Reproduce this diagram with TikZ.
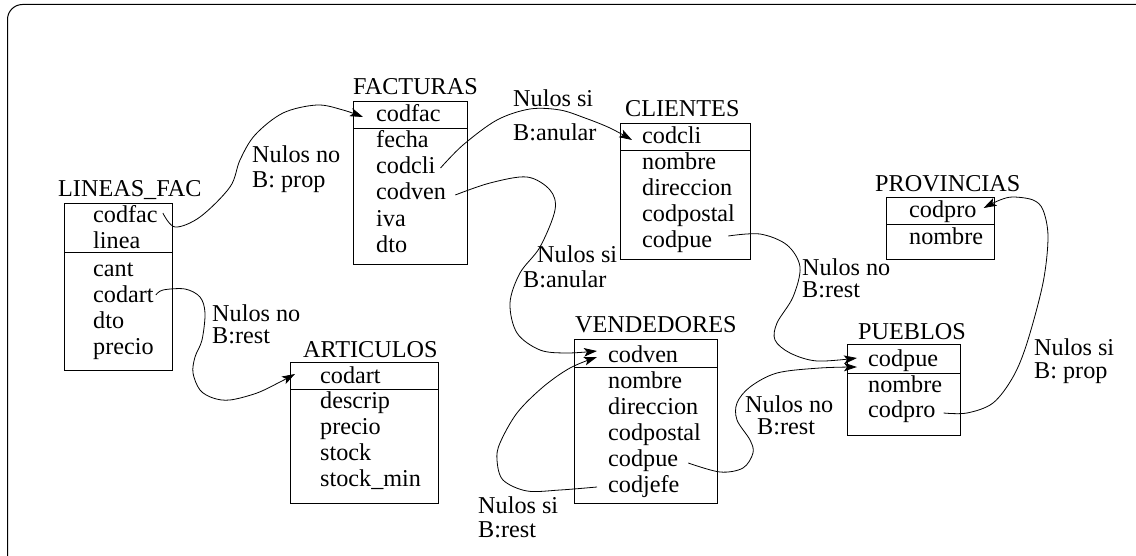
\documentclass[tikz,border=0pt]{standalone}
\usepackage{fontspec}
\setmainfont{Liberation Serif}
\usetikzlibrary{arrows.meta,calc}
\begin{document}
\begin{tikzpicture}[x=1pt,y=-1pt,
  fld/.style={anchor=base west, inner sep=0pt, text height=16pt, text depth=5pt, font=\fontsize{24.2}{26}\selectfont},
  ttl/.style={fld},
  lbl/.style={fld, text height=14pt, text depth=4pt},
  tbox/.style={draw, line width=1pt, anchor=north west, inner sep=0pt},
  conn/.style={line width=0.8pt, -{Stealth[length=13pt,width=8.5pt,inset=3pt]}},
  sm/.style={smooth, tension=0.55}]
\useasboundingbox (0,0) rectangle (1136,556);
\begin{scope}
\clip (0,0) rectangle (1136,556);
\draw[line width=1pt, rounded corners=15pt] (7.5,4.5) rectangle (1170,590);
\end{scope}

% LINEAS_FAC
\node[ttl] (lft) at (58,197) {LINEAS\_FAC};
\node[tbox, minimum width=108pt, minimum height=167pt] (lfbox) at (64,203) {};
\draw[line width=1pt] (lfbox.west |- 0,253) -- (lfbox.east |- 0,253);
\node[fld] (lf-codfac) at (93,223) {codfac};
\node[fld] (lf-linea) at (93,249) {linea};
\node[fld] (lf-cant) at (93,277) {cant};
\node[fld] (lf-codart) at (93,302) {codart};
\node[fld] (lf-dto) at (93,328) {dto};
\node[fld] (lf-precio) at (93,354) {precio};

% FACTURAS
\node[ttl] (ft) at (353,95) {FACTURAS};
\node[tbox, minimum width=114pt, minimum height=163pt] (fbox) at (353,101) {};
\draw[line width=1pt] (fbox.west |- 0,129) -- (fbox.east |- 0,129);
\node[fld] (f-codfac) at (376,122) {codfac};
\node[fld] (f-fecha) at (376,148) {fecha};
\node[fld] (f-codcli) at (376,174) {codcli};
\node[fld] (f-codven) at (376,200) {codven};
\node[fld] (f-iva) at (376,227) {iva};
\node[fld] (f-dto) at (376,253) {dto};

% CLIENTES
\node[ttl] (ct) at (625,117) {CLIENTES};
\node[tbox, minimum width=130pt, minimum height=136pt] (cbox) at (620,123) {};
\draw[line width=1pt] (cbox.west |- 0,151) -- (cbox.east |- 0,151);
\node[fld] (c-codcli) at (642,144) {codcli};
\node[fld] (c-nombre) at (642,170) {nombre};
\node[fld] (c-direccion) at (642,196) {direccion};
\node[fld] (c-codpostal) at (642,222) {codpostal};
\node[fld] (c-codpue) at (642,248) {codpue};

% PROVINCIAS
\node[ttl] (prt) at (875,192) {PROVINCIAS};
\node[tbox, minimum width=108pt, minimum height=62pt] (prbox) at (886,197) {};
\draw[line width=1pt] (prbox.west |- 0,225) -- (prbox.east |- 0,225);
\node[fld] (pr-codpro) at (909,218) {codpro};
\node[fld] (pr-nombre) at (909,245) {nombre};

% PUEBLOS
\node[ttl] (pt) at (858,339) {PUEBLOS};
\node[tbox, minimum width=113pt, minimum height=91pt] (pbox) at (847,344) {};
\draw[line width=1pt] (pbox.west |- 0,373) -- (pbox.east |- 0,373);
\node[fld] (p-codpue) at (868,366) {codpue};
\node[fld] (p-nombre) at (868,392) {nombre};
\node[fld] (p-codpro) at (868,417) {codpro};

% ARTICULOS
\node[ttl] (at) at (303,357) {ARTICULOS};
\node[tbox, minimum width=148pt, minimum height=141pt] (abox) at (290,362) {};
\draw[line width=1pt] (abox.west |- 0,389) -- (abox.east |- 0,389);
\node[fld] (a-codart) at (320,383) {codart};
\node[fld] (a-descrip) at (320,408) {descrip};
\node[fld] (a-precio) at (320,434) {precio};
\node[fld] (a-stock) at (320,460) {stock};
\node[fld] (a-stockmin) at (320,486) {stock\_min};

% VENDEDORES
\node[ttl] (vt) at (575,332) {VENDEDORES};
\node[tbox, minimum width=143pt, minimum height=164pt] (vbox) at (574,339) {};
\draw[line width=1pt] (vbox.west |- 0,367) -- (vbox.east |- 0,367);
\node[fld] (v-codven) at (608,362) {codven};
\node[fld] (v-nombre) at (608,388) {nombre};
\node[fld] (v-direccion) at (608,414) {direccion};
\node[fld] (v-codpostal) at (608,440) {codpostal};
\node[fld] (v-codpue) at (608,466) {codpue};
\node[fld] (v-codjefe) at (608,492) {codjefe};

% labels
\node[lbl] (l1a) at (252,163) {Nulos no};
\node[lbl] (l1b) at (252,188) {B: prop};
\node[lbl] (l2a) at (513,107) {Nulos si};
\node[lbl] (l2b) at (513,141) {B:anular};
\node[lbl] (l3a) at (537,263) {Nulos si};
\node[lbl] (l3b) at (523,288) {B:anular};
\node[lbl] (l4a) at (802,276) {Nulos no};
\node[lbl] (l4b) at (802,298) {B:rest};
\node[lbl] (l5a) at (745,412) {Nulos no};
\node[lbl] (l5b) at (757,434) {B:rest};
\node[lbl] (l6a) at (478,513) {Nulos si};
\node[lbl] (l6b) at (478,537) {B:rest};
\node[lbl] (l7a) at (1034,355) {Nulos si};
\node[lbl] (l7b) at (1034,378) {B: prop};
\node[lbl] (l8a) at (212,321) {Nulos no};
\node[lbl] (l8b) at (212,343) {B:rest};

% connector end points
\coordinate (s1) at ($(lf-codfac.base east)+(5,-10)$);
\coordinate (t1) at ($(f-codfac.base west)+(-13,-5)$);
\coordinate (s2) at ($(f-codcli.base east)+(5,-6)$);
\coordinate (t2) at ($(c-codcli.base west)+(-10,-4)$);
\coordinate (s3) at ($(f-codven.base east)+(9,-5)$);
\coordinate (t3) at ($(v-codven.base west)+(-11,-11)$);
\coordinate (s4) at ($(c-codpue.base east)+(16,-12)$);
\coordinate (t4) at ($(p-codpue.base west)+(-11,-8)$);
\coordinate (s5) at ($(lf-codart.base east)+(2,-7)$);
\coordinate (t5) at ($(a-codart.base west)+(-25,-9)$);
\coordinate (s6) at ($(v-codjefe.base west)+(-11,-5)$);
\coordinate (t6) at ($(v-codven.base west)+(-11,-5)$);
\coordinate (s7) at ($(v-codpue.base east)+(10,-3)$);
\coordinate (t7) at ($(p-codpue.base west)+(-11,1)$);
\coordinate (s8) at ($(p-codpro.base east)+(8,-4)$);
\coordinate (t8) at ($(pr-codpro.base east)+(7,-10)$);

\draw[conn] plot[sm] coordinates {(s1) (175,227) (200,217) (230,187) (240,160) (255,135) (283,113) (317,105) (343,110) (t1)};
\draw[conn] plot[sm] coordinates {(s2) (463,145) (497,120) (530,109) (560,110) (585,118) (610,128) (t2)};
\draw[conn] plot[sm] coordinates {(s3) (490,183) (527,177) (550,190) (555,210) (540,247) (520,273) (510,303) (517,333) (540,350) (567,353) (t3)};
\draw[conn] plot[sm] coordinates {(s4) (760,234) (787,245) (800,267) (793,297) (777,323) (775,340) (790,353) (817,361) (t4)};
\draw[conn] plot[sm] coordinates {(s5) (163,290) (185,289) (200,297) (205,313) (202,340) (195,357) (193,373) (200,390) (213,398) (230,400) (257,393) (280,382) (t5)};
\draw[conn] plot[sm] coordinates {(s6) (560,490) (527,491) (503,480) (497,460) (500,443) (517,413) (543,387) (570,368) (t6)};
\draw[conn] plot[sm] coordinates {(s7) (720,472) (743,468) (753,453) (750,440) (737,420) (737,403) (750,387) (777,373) (820,368) (t7)};
\draw[conn] plot[sm] coordinates {(s8) (967,413) (993,403) (1013,377) (1027,343) (1043,283) (1048,237) (1043,210) (1033,200) (1013,197) (1000,200) (t8)};
\end{tikzpicture}
\end{document}
